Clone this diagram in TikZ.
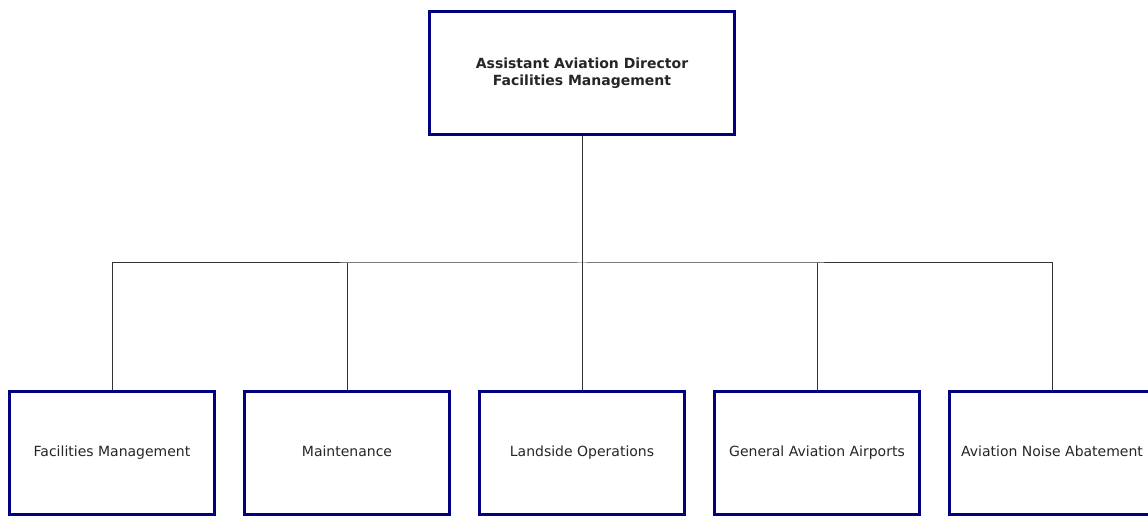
\documentclass[tikz,border=0pt]{standalone}
\usepackage{fontspec}
\setmainfont{DejaVu Sans}
\definecolor{boxblue}{RGB}{0,0,128}
\tikzset{
  unit/.style={draw=boxblue, line width=3.5pt, fill=white, inner sep=2pt,
    minimum width=205pt, minimum height=123pt, align=center,
    text height=10pt, text depth=3pt,
    font=\fontsize{14}{17}\selectfont, text=black!85},
  head/.style={unit, minimum width=305pt, text height=, text depth=,
    font=\bfseries\fontsize{14}{17}\selectfont},
  link/.style={draw=black!80, line width=1pt}
}
\begin{document}
\begin{tikzpicture}[x=1pt,y=-1pt]
\useasboundingbox (0,0) rectangle (1148,518);

%Director box
\node[head] (dir) at (582,73) {Assistant Aviation Director\\Facilities Management};

%Unit boxes
\node[unit] (fm) at (112,453) {Facilities Management};
\node[unit] (mt) at (347,453) {Maintenance};
\node[unit] (lo) at (582,453) {Landside Operations};
\node[unit] (ga) at (817,453) {General Aviation Airports};
\node[unit] (na) at (1052,453) {Aviation Noise Abatement};

%Connectors
\coordinate (bus) at (582,263);
\draw[link] (dir.south) -- (bus);
\draw[link] (fm.north) |- (bus) -| (na.north);
\foreach \n in {mt,lo,ga}
  \draw[link] (\n.north) -- (\n.north |- bus);

\end{tikzpicture}
\end{document}
